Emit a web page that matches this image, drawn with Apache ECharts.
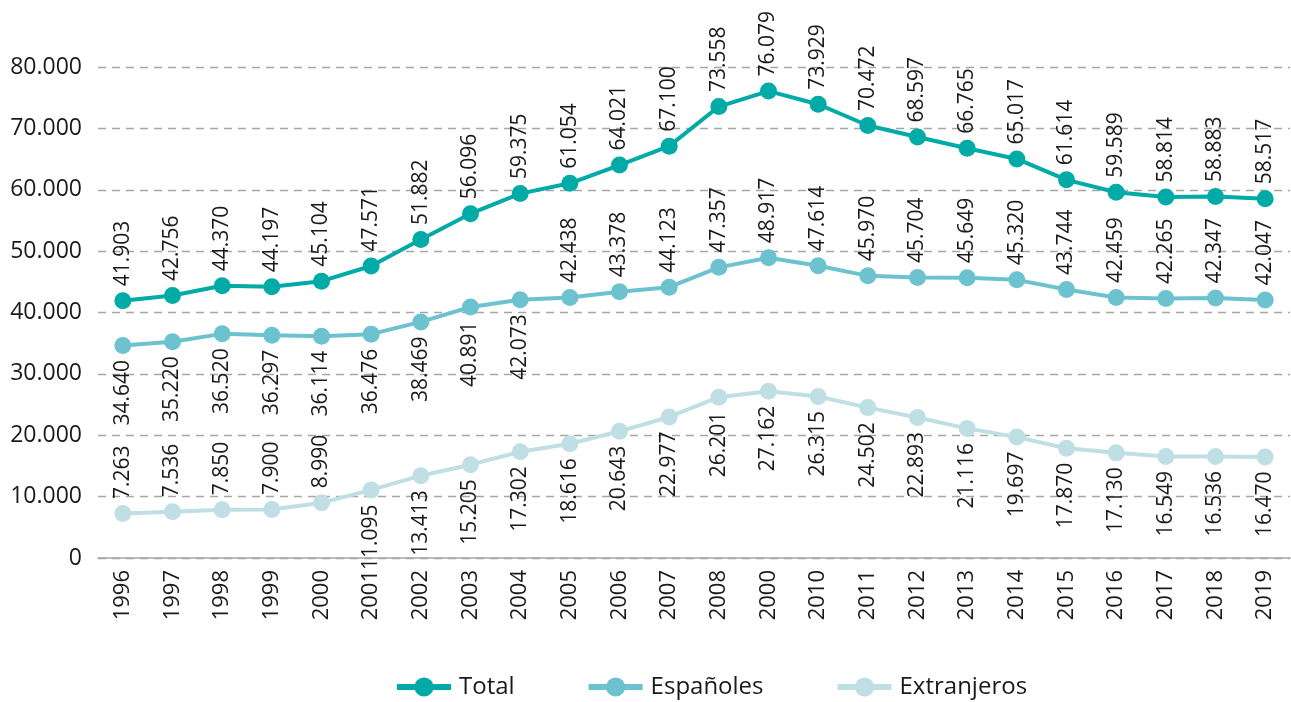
<!DOCTYPE html>
<html>
<head>
<meta charset="utf-8">
<script src="https://cdn.jsdelivr.net/npm/echarts@6.0.0/dist/echarts.min.js"></script>
<style>
  html, body { margin: 0; padding: 0; background: #fff; }
  #chart { width: 1291px; height: 702px; }
</style>
</head>
<body>
<div id="chart"></div>
<script>
// Year labels along the x axis (as printed)
const years = ["1996","1997","1998","1999","2000","2001","2002","2003","2004","2005","2006","2007",
               "2008","2000","2010","2011","2012","2013","2014","2015","2016","2017","2018","2019"];

const total = [41903, 42756, 44370, 44197, 45104, 47571, 51882, 56096, 59375, 61054, 64021, 67100,
               73558, 76079, 73929, 70472, 68597, 66765, 65017, 61614, 59589, 58814, 58883, 58517];

const espanoles = [34640, 35220, 36520, 36297, 36114, 36476, 38469, 40891, 42073, 42438, 43378, 44123,
                   47357, 48917, 47614, 45970, 45704, 45649, 45320, 43744, 42459, 42265, 42347, 42047];

const extranjeros = [7263, 7536, 7850, 7900, 8990, 11095, 13413, 15205, 17302, 18616, 20643, 22977,
                     26201, 27162, 26315, 24502, 22893, 21116, 19697, 17870, 17130, 16549, 16536, 16470];

const yTicks = [0, 10000, 20000, 30000, 40000, 50000, 60000, 70000, 80000];

const seriesNames = ["Total", "Españoles", "Extranjeros"];
const colors = ["#00aaa6", "#6cc3cf", "#bfdfe4"];

const FONT = "'Open Sans', 'Noto Sans', sans-serif";

// Spanish thousands separator
function fmt(v) {
  return String(v).replace(/\B(?=(\d{3})+(?!\d))/g, ".");
}

// Vertical value labels, placed above or below the marker
function labelFor(above) {
  return above
    ? { position: "top", align: "left", verticalAlign: "middle" }
    : { position: "bottom", align: "right", verticalAlign: "middle" };
}

function buildData(values, isAbove) {
  return values.map((v, i) => ({ value: v, label: labelFor(isAbove(i)) }));
}

function makeSeries(name, color, data) {
  return {
    name: name,
    type: "line",
    data: data,
    symbol: "circle",
    symbolSize: 17,
    lineStyle: { width: 4, color: color },
    itemStyle: { color: color },
    label: {
      show: true,
      rotate: 90,
      distance: 6,
      color: "#1a1a1a",
      fontFamily: FONT,
      fontSize: 21,
      formatter: p => fmt(p.value)
    },
    emphasis: { disabled: true },
    z: 3
  };
}

const chart = echarts.init(document.getElementById("chart"), null, { renderer: "canvas" });

chart.setOption({
  animation: false,
  textStyle: { fontFamily: FONT },
  grid: { left: 98, right: 1, top: 67, bottom: 144, containLabel: false },
  legend: {
    data: seriesNames,
    left: 389,
    top: 670,
    itemWidth: 54,
    itemHeight: 24,
    itemGap: 71,
    lineStyle: { width: 6 },
    textStyle: { fontFamily: FONT, fontSize: 24, color: "#1a1a1a", padding: [0, 0, 0, 3] }
  },
  xAxis: {
    type: "category",
    data: years,
    boundaryGap: true,
    axisLine: { show: true, lineStyle: { color: "#a6a6a6", width: 1.5 } },
    axisTick: { show: false },
    axisLabel: {
      rotate: 90,
      margin: 12,
      interval: 0,
      color: "#1a1a1a",
      fontFamily: FONT,
      fontSize: 22
    }
  },
  yAxis: {
    type: "value",
    min: yTicks[0],
    max: yTicks[yTicks.length - 1],
    interval: yTicks[1] - yTicks[0],
    axisLine: { show: false },
    axisTick: { show: false },
    splitLine: { show: true, lineStyle: { color: "#a6a6a6", type: [8, 6], width: 1.3 } },
    axisLabel: {
      margin: 16,
      color: "#1a1a1a",
      fontFamily: FONT,
      fontSize: 23,
      formatter: v => fmt(v)
    }
  },
  series: [
    makeSeries(seriesNames[0], colors[0], buildData(total, () => true)),
    makeSeries(seriesNames[1], colors[1], buildData(espanoles, i => i >= 9)),
    makeSeries(seriesNames[2], colors[2], buildData(extranjeros, i => i <= 4))
  ]
});
</script>
</body>
</html>
